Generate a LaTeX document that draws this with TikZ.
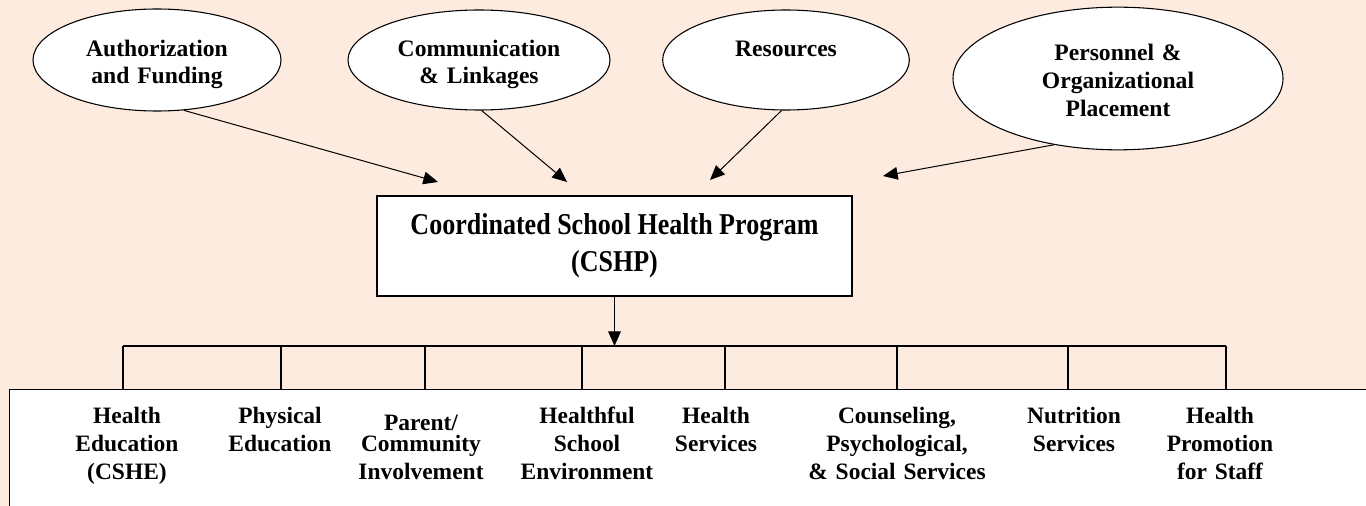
\documentclass[tikz,border=0pt]{standalone}
\usepackage{fontspec}
\setmainfont{Liberation Serif}
\newfontfamily\cshpfont[FakeStretch=0.86]{Liberation Serif}
\usetikzlibrary{shapes.geometric,arrows.meta}
\definecolor{peach}{RGB}{253,235,224}

\begin{document}
\begin{tikzpicture}[x=0.75pt, y=-0.75pt,
	oval/.style={draw, ellipse, fill=white, inner sep=0pt, line width=0.8pt},
	ovaltext/.style={anchor=base, text width=200pt, align=center, font=\fontsize{17.7}{20}\selectfont\bfseries},
	comptext/.style={anchor=base, text width=200pt, align=center, font=\fontsize{17.6}{21.2}\selectfont\bfseries},
	feed/.style={arrows={-Triangle[length=11pt, width=9.5pt]}, line width=0.75pt},
	tie/.style={line width=0.9pt}]

	\clip (0,0) rectangle (1366,506);
	\fill [peach] (0,0) rectangle (1366,506);

	\node [oval, minimum width=186pt, minimum height=76.5pt] (auth) at (157,60) {};
	\node [oval, minimum width=196.5pt, minimum height=75pt] (comm) at (479,60) {};
	\node [oval, minimum width=185pt, minimum height=75pt] (res) at (786,60) {};
	\node [oval, minimum width=247.5pt, minimum height=107pt] (pers) at (1118,78.5) {};
	\node [ovaltext] (authtext) at (157,56.7) {Authorization\\and Funding};
	\node [ovaltext] (commtext) at (479,56.7) {Communication\\\& Linkages};
	\node [ovaltext] (restext) at (786,56.7) {Resources};
	\node [ovaltext, font=\fontsize{17.7}{21}\selectfont\bfseries] (perstext) at (1118,61) {Personnel \&\\Organizational\\Placement};

	\node [draw, fill=white, line width=0.9pt, minimum width=356.25pt, minimum height=75pt, inner sep=0pt, align=center, font=\cshpfont\bfseries\fontsize{22.7}{27.5}\selectfont] (cshp) at (614.5,246) {Coordinated School Health Program\\(CSHP)};

	\coordinate (e1) at (438,182);
	\coordinate (e2) at (567,182);
	\coordinate (e3) at (710,180);
	\coordinate (e4) at (883,176);
	\draw [feed] (auth.-62) -- (e1);
	\draw [feed] (comm.-87) -- (e2);
	\draw [feed] (res.-95) -- (e3);
	\draw [feed] (pers.-134) -- (e4);

	\node [draw, fill=white, line width=0.9pt, anchor=north west, minimum width=1030pt, minimum height=100pt, inner sep=0pt] (comps) at (9,389) {};

	\coordinate (b1) at (123,346);
	\coordinate (b2) at (281,346);
	\coordinate (b3) at (425,346);
	\coordinate (b4) at (582,346);
	\coordinate (b5) at (725,346);
	\coordinate (b6) at (897,346);
	\coordinate (b7) at (1068,346);
	\coordinate (b8) at (1226,346);
	\draw [tie] (b1) -- (b8);
	\foreach \tap in {b1,b2,b3,b4,b5,b6,b7,b8}
		\draw [tie] (\tap) -- (\tap |- comps.north);
	\draw [feed] (cshp.south) -- (cshp.south |- b1);

	\node [comptext] (heduc) at (127,423.3) {Health\\Education\\(CSHE)};
	\node [comptext] (peduc) at (280,423.3) {Physical\\Education};
	\node [comptext] (parent) at (421,430) {Parent/\\[-5pt]Community\\Involvement};
	\node [comptext] (envir) at (587,423.3) {Healthful\\School\\Environment};
	\node [comptext] (hserv) at (716,423.3) {Health\\Services};
	\node [comptext] (couns) at (897,423.3) {Counseling,\\Psychological,\\\& Social Services};
	\node [comptext] (nutri) at (1074,423.3) {Nutrition\\Services};
	\node [comptext] (staff) at (1220,423.3) {Health\\Promotion\\for Staff};

\end{tikzpicture}
\end{document}
